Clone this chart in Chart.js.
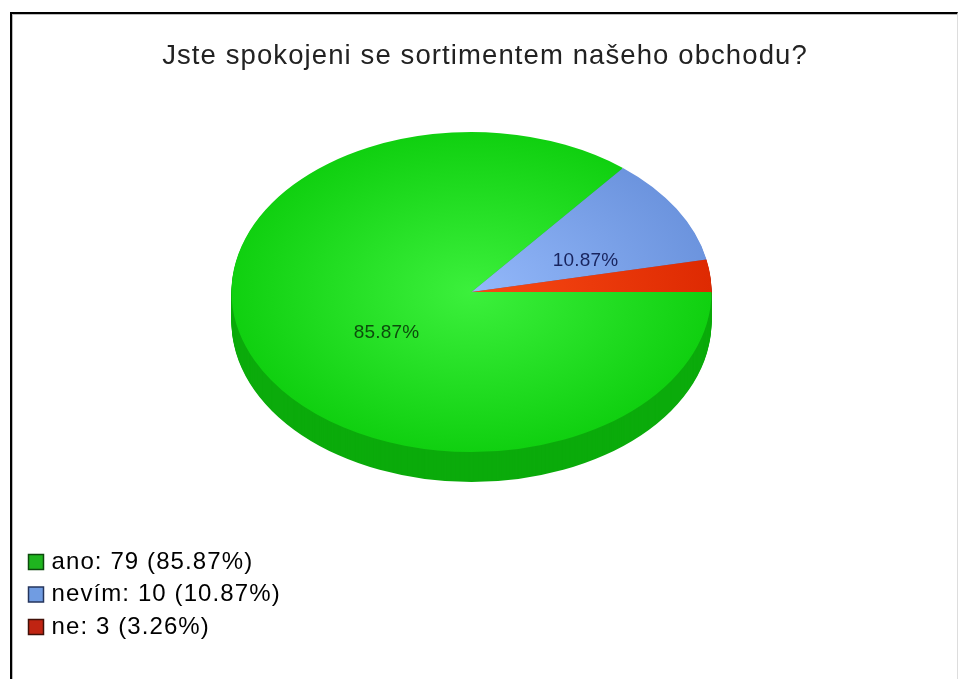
<!DOCTYPE html>
<html>
<head>
<meta charset="utf-8">
<title>Jste spokojeni se sortimentem našeho obchodu?</title>
<script src="https://cdn.jsdelivr.net/npm/chart.js@4/dist/chart.umd.js"></script>
<style>
  html, body { margin: 0; padding: 0; background: #fff; overflow: hidden; }
  #frame {
    position: absolute; left: 10px; top: 12px; width: 945px; height: 667px;
    border-top: 2px solid #000; border-left: 2px solid #000; border-right: 1px solid #ddd;
    box-shadow: inset 1px 1px 0 #bbb;
  }
  #pie { position: absolute; left: 0; top: 0; }
</style>
</head>
<body>
<div id="frame"></div>
<canvas id="pie" width="958" height="679"></canvas>
<script>
const chartTitle = 'Jste spokojeni se sortimentem našeho obchodu?';
const answers = ['ano', 'nevím', 'ne'];
const counts = [79, 10, 3];

const innerColors = ['#3cf03c', '#93b8fa', '#f84a14'];
const outerColors = ['#10d010', '#6c94de', '#de2a02'];
const sideColors = ['#0bab0b', '#4f70b0', '#a82000'];
const legendFill = ['#1fb51f', '#709ce2', '#c02412'];
const legendBorder = ['#0c4a0c', '#24345c', '#401008'];
const labelColors = ['#0c4c0c', '#18245e', null];
// slice label positions, offset from the pie centre
const labelOffsets = [[-85, 41], [114, -31], null];

const total = counts.reduce(function (a, b) { return a + b; }, 0);
const percents = counts.map(function (c) { return (c / total * 100).toFixed(2) + '%'; });

const depth = 30;
const stretchX = 1.5;

function sliceFill(context) {
  const area = context.chart.chartArea;
  if (!area) return innerColors[context.dataIndex];
  const cx = (area.left + area.right) / 2;
  const cy = (area.top + area.bottom) / 2;
  const g = context.chart.ctx.createRadialGradient(cx, cy, 0, cx, cy, area.height / 2);
  g.addColorStop(0, innerColors[context.dataIndex]);
  g.addColorStop(1, outerColors[context.dataIndex]);
  return g;
}

// squashes the round pie into a disc and paints its rim underneath
const discPlugin = {
  id: 'disc',
  afterLayout(chart) {
    chart.titleBlock.left = 0;
    chart.titleBlock.right = 970;
    chart.legend.left = 24;
    chart.legend.right = 320;
    chart.legend.top = 541.5;
    chart.legend.bottom = 660;
  },
  beforeDraw(chart) {
    chart.ctx.letterSpacing = '1.1px';
  },
  beforeDatasetsDraw(chart) {
    const ctx = chart.ctx;
    const arcs = chart.getDatasetMeta(0).data;
    const cx = arcs[0].x, cy = arcs[0].y;
    ctx.save();
    ctx.translate(cx, cy);
    ctx.scale(stretchX, 1);
    ctx.translate(-cx, -cy);
    for (let d = depth; d > 0; d--) {
      arcs.forEach(function (arc, i) {
        ctx.beginPath();
        ctx.moveTo(cx, cy + d);
        ctx.arc(cx, cy + d, arc.outerRadius, arc.startAngle, arc.endAngle);
        ctx.closePath();
        ctx.fillStyle = sideColors[i];
        ctx.fill();
      });
    }
  },
  afterDatasetsDraw(chart) {
    const ctx = chart.ctx;
    ctx.restore();
    const arc = chart.getDatasetMeta(0).data[0];
    ctx.save();
    ctx.letterSpacing = '0.2px';
    ctx.font = '19px "Liberation Sans"';
    ctx.textAlign = 'center';
    ctx.textBaseline = 'middle';
    percents.forEach(function (text, i) {
      if (!labelOffsets[i]) return;
      ctx.fillStyle = labelColors[i];
      ctx.fillText(text, arc.x + labelOffsets[i][0], arc.y + labelOffsets[i][1]);
    });
    ctx.restore();
  }
};

new Chart(document.getElementById('pie'), {
  type: 'pie',
  data: {
    labels: answers,
    datasets: [{
      data: counts,
      backgroundColor: sliceFill,
      borderWidth: 0,
      hoverOffset: 0,
      clip: false
    }]
  },
  options: {
    responsive: false,
    animation: false,
    rotation: 90,
    events: [],
    layout: { padding: { left: 232, right: 247, top: 0, bottom: 227 } },
    plugins: {
      tooltip: { enabled: false },
      title: {
        display: true,
        text: chartTitle,
        color: '#222',
        font: { family: '"Liberation Sans"', size: 27.5, weight: 'normal', lineHeight: 1.2 },
        padding: { top: 39.5, bottom: 59.5 }
      },
      legend: {
        position: 'chartArea',
        align: 'start',
        padding: 0,
        labels: {
          color: '#2a2a2a',
          font: { family: '"Liberation Sans"', size: 24 },
          usePointStyle: true,
          boxWidth: 7,
          boxHeight: 15,
          padding: 8.5,
          generateLabels() {
            return answers.map(function (name, i) {
              return {
                text: name + ': ' + counts[i] + ' (' + percents[i] + ')',
                fillStyle: legendFill[i],
                strokeStyle: legendBorder[i],
                lineWidth: 1.5,
                pointStyle: 'rect',
                index: i
              };
            });
          }
        }
      }
    }
  },
  plugins: [discPlugin]
});
</script>
</body>
</html>
